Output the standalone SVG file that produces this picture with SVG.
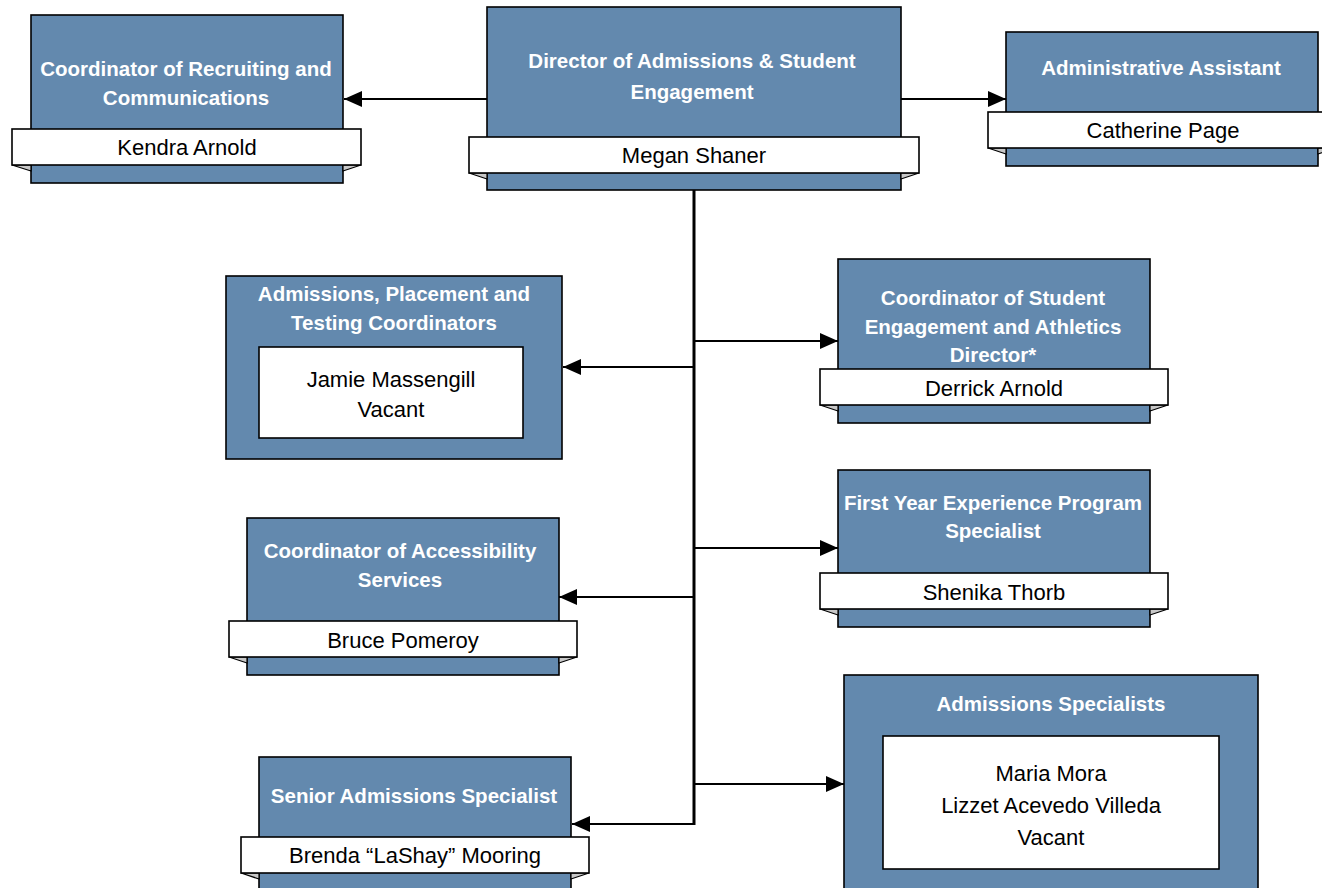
<svg xmlns="http://www.w3.org/2000/svg" width="1322" height="888" viewBox="0 0 1322 888">
<style>
.box{fill:#6389ae;stroke:#000;stroke-width:1.6}
.ban{fill:#fff;stroke:#000;stroke-width:1.6}
.fold{fill:#c8c8c8;stroke:#000;stroke-width:1.2;stroke-linejoin:miter}
.t{font-family:"Liberation Sans",Arial,sans-serif;font-weight:bold;font-size:20.5px;fill:#fff;text-anchor:middle}
.n{font-family:"Liberation Sans",Arial,sans-serif;font-size:22px;fill:#000;text-anchor:middle}
.c{fill:none;stroke:#000;stroke-width:2}
.trunk{fill:none;stroke:#000;stroke-width:3}
</style>
<defs>
<marker id="ah" viewBox="0 0 18 16" refX="18" refY="8" markerWidth="18" markerHeight="16" markerUnits="userSpaceOnUse" orient="auto">
<path d="M0,0 L18,8 L0,16 z" fill="#000"/>
</marker>
</defs>
<rect width="1322" height="888" fill="#fff"/>

<g id="connectors">
<line class="c" x1="487" y1="99" x2="344" y2="99" marker-end="url(#ah)"/>
<line class="c" x1="901" y1="99" x2="1006" y2="99" marker-end="url(#ah)"/>
<line class="trunk" x1="694" y1="190" x2="694" y2="825"/>
<line class="c" x1="694" y1="367" x2="563" y2="367" marker-end="url(#ah)"/>
<line class="c" x1="694" y1="597" x2="559" y2="597" marker-end="url(#ah)"/>
<line class="c" x1="694" y1="824" x2="572" y2="824" marker-end="url(#ah)"/>
<line class="c" x1="694" y1="341" x2="838" y2="341" marker-end="url(#ah)"/>
<line class="c" x1="694" y1="548" x2="838" y2="548" marker-end="url(#ah)"/>
<line class="c" x1="694" y1="784" x2="844" y2="784" marker-end="url(#ah)"/>
</g>

<g id="node-recruiting">
<rect class="box" x="31" y="15" width="312" height="168"/>
<polygon class="fold" points="12,165 31,165 31,171"/>
<polygon class="fold" points="361,165 343,165 343,171"/>
<rect class="ban" x="12" y="129" width="349" height="36"/>
<text class="t" x="186" y="76">Coordinator of Recruiting and</text>
<text class="t" x="186" y="105">Communications</text>
<text class="n" x="187" y="155">Kendra Arnold</text>
</g>

<g id="node-director">
<rect class="box" x="487" y="7" width="414" height="183"/>
<polygon class="fold" points="469,173 487,173 487,179"/>
<polygon class="fold" points="919,173 901,173 901,179"/>
<rect class="ban" x="469" y="137" width="450" height="36"/>
<text class="t" x="692" y="68">Director of Admissions &amp; Student</text>
<text class="t" x="692" y="99">Engagement</text>
<text class="n" x="694" y="163">Megan Shaner</text>
</g>

<g id="node-admin-assistant">
<rect class="box" x="1006" y="32" width="312" height="134"/>
<polygon class="fold" points="988,148 1006,148 1006,154"/>
<polygon class="fold" points="1336,148 1318,148 1318,154"/>
<rect class="ban" x="988" y="112" width="348" height="36"/>
<text class="t" x="1161" y="75">Administrative Assistant</text>
<text class="n" x="1163" y="138">Catherine Page</text>
</g>

<g id="node-placement">
<rect class="box" x="226" y="276" width="336" height="183"/>
<rect class="ban" x="259" y="347" width="264" height="91"/>
<text class="t" x="394" y="301">Admissions, Placement and</text>
<text class="t" x="394" y="330">Testing Coordinators</text>
<text class="n" x="391" y="387">Jamie Massengill</text>
<text class="n" x="391" y="417">Vacant</text>
</g>

<g id="node-student-engagement">
<rect class="box" x="838" y="259" width="312" height="164"/>
<polygon class="fold" points="820,405 838,405 838,411"/>
<polygon class="fold" points="1168,405 1150,405 1150,411"/>
<rect class="ban" x="820" y="369" width="348" height="36"/>
<text class="t" x="993" y="305">Coordinator of Student</text>
<text class="t" x="993" y="334">Engagement and Athletics</text>
<text class="t" x="993" y="362">Director*</text>
<text class="n" x="994" y="396">Derrick Arnold</text>
</g>

<g id="node-accessibility">
<rect class="box" x="247" y="518" width="312" height="157"/>
<polygon class="fold" points="229,657 247,657 247,663"/>
<polygon class="fold" points="577,657 559,657 559,663"/>
<rect class="ban" x="229" y="621" width="348" height="36"/>
<text class="t" x="400" y="558">Coordinator of Accessibility</text>
<text class="t" x="400" y="587">Services</text>
<text class="n" x="403" y="648">Bruce Pomeroy</text>
</g>

<g id="node-first-year">
<rect class="box" x="838" y="470" width="312" height="157"/>
<polygon class="fold" points="820,609 838,609 838,615"/>
<polygon class="fold" points="1168,609 1150,609 1150,615"/>
<rect class="ban" x="820" y="573" width="348" height="36"/>
<text class="t" x="993" y="510">First Year Experience Program</text>
<text class="t" x="993" y="538">Specialist</text>
<text class="n" x="994" y="600">Shenika Thorb</text>
</g>

<g id="node-admissions-specialists">
<rect class="box" x="844" y="675" width="414" height="225"/>
<rect class="ban" x="883" y="736" width="336" height="133"/>
<text class="t" x="1051" y="711">Admissions Specialists</text>
<text class="n" x="1051" y="781">Maria Mora</text>
<text class="n" x="1051" y="813">Lizzet Acevedo Villeda</text>
<text class="n" x="1051" y="845">Vacant</text>
</g>

<g id="node-senior">
<rect class="box" x="259" y="757" width="312" height="143"/>
<polygon class="fold" points="241,873 259,873 259,879"/>
<polygon class="fold" points="589,873 571,873 571,879"/>
<rect class="ban" x="241" y="837" width="348" height="36"/>
<text class="t" x="414" y="803">Senior Admissions Specialist</text>
<text class="n" x="415" y="863">Brenda “LaShay” Mooring</text>
</g>
</svg>
